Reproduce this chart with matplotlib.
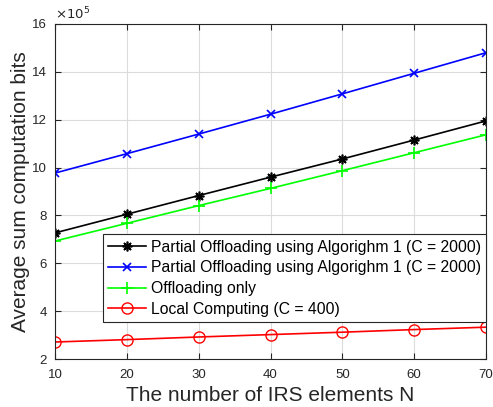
import numpy as np
import matplotlib.pyplot as plt

plt.rcParams['font.family'] = ['Liberation Sans', 'DejaVu Sans']

N = [10, 20, 30, 40, 50, 60, 70]
partial_a = [7.27, 8.05, 8.83, 9.60, 10.36, 11.15, 11.95]
partial_b = [9.77, 10.58, 11.40, 12.23, 13.08, 13.94, 14.80]
offload_only = [6.93, 7.67, 8.41, 9.13, 9.87, 10.62, 11.37]
local = [2.71, 2.81, 2.92, 3.02, 3.12, 3.23, 3.33]

labels = ["Partial Offloading using Algorighm 1 (C = 2000)",
          "Partial Offloading using Algorighm 1 (C = 2000)",
          "Offloading only",
          "Local Computing (C = 400)"]

fig = plt.figure(figsize=(4.93, 4.07), dpi=100)
ax = fig.add_axes([55/493, 1 - 359/407, 431/493, 335/407])

ax.plot(N, partial_a, color='black', marker=(8, 2, 0), markersize=7, mew=1.2, lw=1.2, label=labels[0])
ax.plot(N, partial_b, color='blue', marker='x', markersize=6, mew=1.2, lw=1.2, label=labels[1])
ax.plot(N, offload_only, color='#00ff00', marker='+', markersize=8, mew=1.2, lw=1.2, label=labels[2])
ax.plot(N, local, color='red', marker='o', markersize=8, mfc='none', lw=1.2, label=labels[3])

ax.set_xlim(10, 70)
ax.set_ylim(2, 16)
ax.set_xticks(N)
ax.set_yticks(np.arange(2, 17, 2))
ax.grid(True, color='#dcdcdc', lw=0.8)
ax.set_axisbelow(True)
ax.tick_params(direction='in', labelsize=9.5, colors='#262626', top=True, right=True, length=4)
ax.tick_params(axis='x', pad=7)
ax.tick_params(axis='y', pad=6)
for s in ax.spines.values():
    s.set_color('#262626')
ax.set_xlabel("The number of IRS elements N", fontsize=15, color='#262626', labelpad=4)
ax.set_ylabel("Average sum computation bits", fontsize=15, color='#262626', labelpad=1)
ax.text(0, 1.005, r"$\times10^5$", transform=ax.transAxes, fontsize=9.5, color='#262626',
        va='bottom', ha='left')

leg = ax.legend(loc='lower right', bbox_to_anchor=(1.0, 0.11), fontsize=11.3,
                frameon=True, fancybox=False, edgecolor='#262626', framealpha=1,
                borderpad=0.35, handlelength=2.4, labelspacing=0.36, handletextpad=0.3,
                borderaxespad=0)
leg.get_frame().set_linewidth(0.8)

fig.savefig('out.png', dpi=100)
